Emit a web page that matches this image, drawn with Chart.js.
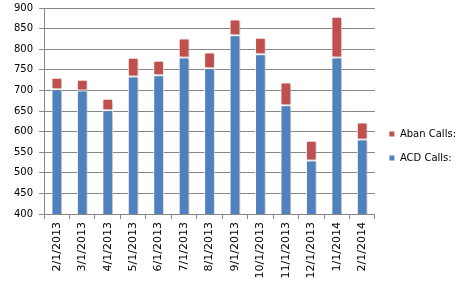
<!DOCTYPE html>
<html>
<head>
<meta charset="utf-8">
<script src="https://cdn.jsdelivr.net/npm/chart.js@4"></script>
<style>
  html, body { margin: 0; padding: 0; background: #fff; }
  #wrap { width: 470px; height: 286px; }
</style>
</head>
<body>
<div id="wrap"><canvas id="myChart"></canvas></div>
<script>
// data
const months = ['2/1/2013', '3/1/2013', '4/1/2013', '5/1/2013', '6/1/2013', '7/1/2013', '8/1/2013',
  '9/1/2013', '10/1/2013', '11/1/2013', '12/1/2013', '1/1/2014', '2/1/2014'];
const acdCalls = [703, 700, 652, 734, 737, 780, 754, 834, 788, 664, 530, 780, 581];
const abanCalls = [28, 26, 28, 45, 35, 46, 38, 38, 40, 55, 48, 99, 41];

const gridGray = '#868686';
const labelFont = { family: 'DejaVu Sans', size: 10 };

// soft drop shadow under the bars, like the Excel look
const barShadow = {
  id: 'barShadow',
  beforeDatasetsDraw(chart) {
    const ctx = chart.ctx;
    ctx.save();
    ctx.shadowColor = 'rgba(0,0,0,0.28)';
    ctx.shadowBlur = 3;
    ctx.shadowOffsetX = 1.5;
    ctx.shadowOffsetY = 1;
  },
  afterDatasetsDraw(chart) {
    chart.ctx.restore();
  }
};

const chartContainer = document.getElementById('myChart');

const chartConfiguration = {
  type: 'bar',
  data: {
    labels: months,
    datasets: [
      {
        label: 'ACD Calls:',
        data: acdCalls,
        backgroundColor: '#4F81BD',
        borderColor: '#ffffff',
        borderWidth: 1,
        borderSkipped: false
      },
      {
        label: 'Aban Calls:',
        data: abanCalls,
        backgroundColor: '#C0504D',
        borderColor: '#ffffff',
        borderWidth: 1,
        borderSkipped: false
      }
    ]
  },
  options: {
    responsive: true,
    maintainAspectRatio: false,
    animation: false,
    datasets: {
      bar: { barPercentage: 0.42, categoryPercentage: 1 }
    },
    layout: { padding: { left: 8, top: 6, right: 4, bottom: 0 } },
    plugins: {
      tooltip: { enabled: false },
      legend: {
        position: 'right',
        reverse: true,
        labels: {
          boxWidth: 6,
          boxHeight: 6,
          padding: 14,
          color: '#000',
          font: labelFont
        }
      }
    },
    scales: {
      x: {
        stacked: true,
        afterFit(scale) { scale.height = 72; },
        grid: {
          offset: true,
          drawOnChartArea: false,
          drawTicks: true,
          tickLength: 5,
          color: gridGray
        },
        border: { color: gridGray },
        ticks: {
          minRotation: 90,
          maxRotation: 90,
          autoSkip: false,
          padding: 3,
          color: '#000',
          font: { family: 'DejaVu Sans', size: 11 }
        }
      },
      y: {
        stacked: true,
        min: 400,
        max: 900,
        afterFit(scale) { scale.paddingTop = 8; },
        grid: {
          color: gridGray,
          tickLength: 5
        },
        border: { color: gridGray },
        ticks: {
          stepSize: 50,
          padding: 6,
          color: '#000',
          font: labelFont
        }
      }
    }
  },
  plugins: [barShadow]
};

const myChart = new Chart(chartContainer, chartConfiguration);
</script>
</body>
</html>
